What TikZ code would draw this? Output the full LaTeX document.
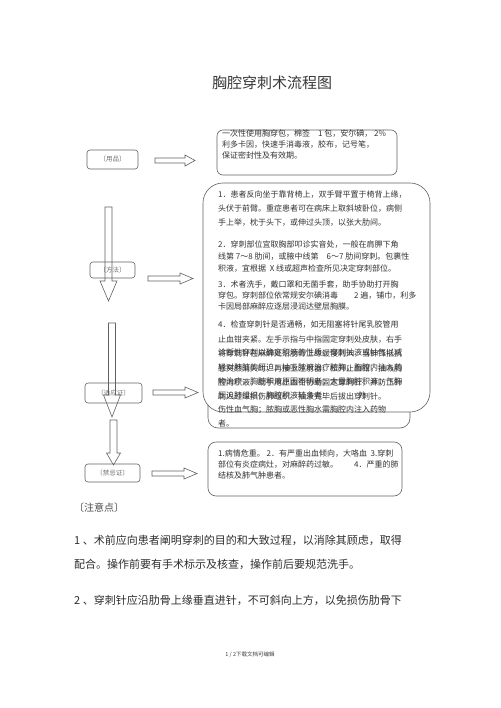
\documentclass[tikz,border=0pt]{standalone}
\usepackage{fontspec}
\setmainfont{Noto Sans CJK SC}
\newcommand\hblk[4]{% x1 x2 y headlen
  \draw[blk] (#1,#3-2.5) -- (#2-#4,#3-2.5) -- (#2-#4,#3-5.5) -- (#2,#3)
    -- (#2-#4,#3+5.5) -- (#2-#4,#3+2.5) -- (#1,#3+2.5) -- cycle;}
\newcommand\vblk[5]{% x y1 y2 headlen headhalf
  \draw[blk] (#1-3.5,#2) -- (#1-3.5,#3-#4) -- (#1-#5,#3-#4) -- (#1,#3)
    -- (#1+#5,#3-#4) -- (#1+3.5,#3-#4) -- (#1+3.5,#2) -- cycle;}
\begin{document}
\begin{tikzpicture}[x=1pt,y=-1pt,
  ln/.style={draw=black!62, line width=0.6pt},
  blk/.style={draw=black!62, line width=0.6pt},
  lbl/.style={draw=black!62, line width=0.6pt, rounded corners=3pt, inner sep=0pt,
    font=\fontsize{6.5}{7}\selectfont, text=black!55},
  txt/.style={inner sep=0pt, anchor=north west, align=left, text=black!80},
  note/.style={inner sep=0pt, anchor=west, text=black!82, font=\fontsize{11}{11}\selectfont}]
\useasboundingbox (0,0) rectangle (500,708);
\fill[white] (0,0) rectangle (500,708);

% title
\node[text=black!78, font=\fontsize{15}{15}\selectfont] (title) at (272,83) {胸腔穿刺术流程图};

% left label boxes
\draw[ln, rounded corners=3pt] (87,150) rectangle (138,169);
\node[lbl, draw=none] (yp) at (112.5,159.5) {〔用品〕};
\draw[ln, rounded corners=3pt] (90,262) rectangle (135,278);
\node[lbl, draw=none] (ff) at (112.5,270) {〔方法〕};
\draw[ln, rounded corners=3pt] (85,383) rectangle (142,403);
\node[lbl, draw=none] (syz) at (113.5,393) {〔适应证〕};
\draw[ln, rounded corners=3pt] (85,464) rectangle (140,482);
\node[lbl, draw=none] (jjz) at (112.5,473) {〔禁忌证〕};

% vertical block arrows
\vblk{108.5}{207}{301}{20}{8.5}
\vblk{112}{323}{417}{22}{8.5}
\vblk{113.5}{420}{465}{12}{7}

% horizontal block arrows
\hblk{155}{195}{160.5}{10}
\hblk{148}{193}{278.5}{13}
\hblk{153}{198}{392.5}{13}
\hblk{152}{197}{473.5}{13}

% text boxes
\draw[ln, rounded corners=6pt] (217,130) rectangle (397,175);
\draw[ln, rounded corners=20pt] (203,183) rectangle (430,412);
\begin{scope}[even odd rule, rounded corners=20pt]
  \clip (0,0) rectangle (500,708) (203,183) rectangle (430,412);
  \draw[ln, rounded corners=10pt] (208,300) rectangle (410,428);
\end{scope}
\draw[ln, rounded corners=8pt] (208,442) rectangle (402,496);

% supplies text
\node[txt, font=\fontsize{8}{11}\selectfont] (t0) at (222,130) {一次性使用胸穿包，棉签\quad 1 包，安尔碘，\ 2\%\\
利多卡因，快速手消毒液，胶布，记号笔，\\
保证密封性及有效期。};

% method text
\node[txt, font=\fontsize{8}{14}\selectfont] (m1) at (218,191) {1．患者反向坐于靠背椅上，双手臂平置于椅背上缘，\\
头伏于前臂。重症患者可在病床上取斜坡卧位，病侧\\
手上举，枕于头下，或伸过头顶，以张大肋间。};
\node[txt, font=\fontsize{8}{12}\selectfont] (m2) at (218,240) {2．穿刺部位宜取胸部叩诊实音处，一般在肩胛下角\\
线第 7～8 肋间，或腋中线第\quad 6～7 肋间穿刺。包裹性\\
积液，宜根据\ \ X 线或超声检查所见决定穿刺部位。};
\node[txt, font=\fontsize{8}{11}\selectfont] (m3) at (218,281) {3．术者洗手，戴口罩和无菌手套，助手协助打开胸\\
穿包。穿刺部位依常规安尔碘消毒\qquad 2 遍，铺巾，利多\\
卡因局部麻醉应逐层浸润达壁层胸膜。};
\node[txt, font=\fontsize{8}{14.4}\selectfont] (m4) at (218,321) {4．检查穿刺针是否通畅，如无阻塞将针尾乳胶管用\\
止血钳夹紧。左手示指与中指固定穿刺处皮肤，右手\\
将穿刺针在麻醉处沿肋骨上缘缓慢刺入，当针锋抵抗\\
感突然消失时，再接上注射器，松开止血钳，抽吸胸\\
腔内积液，助手用止血钳协助固定穿刺针，并防止针\\
刺入过深损伤肺组织。抽液完毕后拔出穿刺针。};

% indications text (overlapping)
\node[txt, font=\fontsize{8}{14.2}\selectfont] (s1) at (218,349) {诊断性穿刺以确定积液的性质；穿刺抽液或抽气以减\\
轻对肺脏的压迫；抽吸脓液治疗脓胸；胸腔内注入药\\
物治疗；胸腔积液原因不明者；大量胸腔积液；气胸\\
压迫肺组织；胸腔积液较多者：\hspace{28pt}外\\
伤性血气胸；脓胸或恶性胸水需胸腔内注入药物\\
者。};

% contraindications text
\node[txt, font=\fontsize{8}{11}\selectfont] (j1) at (218,450) {1.病情危重。\ 2．有严重出血倾向，大咯血\ \ 3.穿刺\\
部位有炎症病灶，对麻醉药过敏。\qquad 4．严重的肺\\
结核及肺气肿患者。};

% notes
\node[note, font=\fontsize{10}{10}\selectfont, text=black!70] (zy) at (74,508) {〔注意点〕};
\node[note] (n1) at (74,540) {1 、术前应向患者阐明穿刺的目的和大致过程，以消除其顾虑，取得};
\node[note] (n2) at (74,564) {配合。操作前要有手术标示及核查，操作前后要规范洗手。};
\node[note] (n3) at (74,600) {2 、穿刺针应沿肋骨上缘垂直进针，不可斜向上方，以免损伤肋骨下};

% footer
\node[inner sep=0pt, font=\fontsize{5.5}{6}\selectfont, text=black!75] (ft) at (250,655) {1 / 2下载文档可编辑};
\end{tikzpicture}
\end{document}
